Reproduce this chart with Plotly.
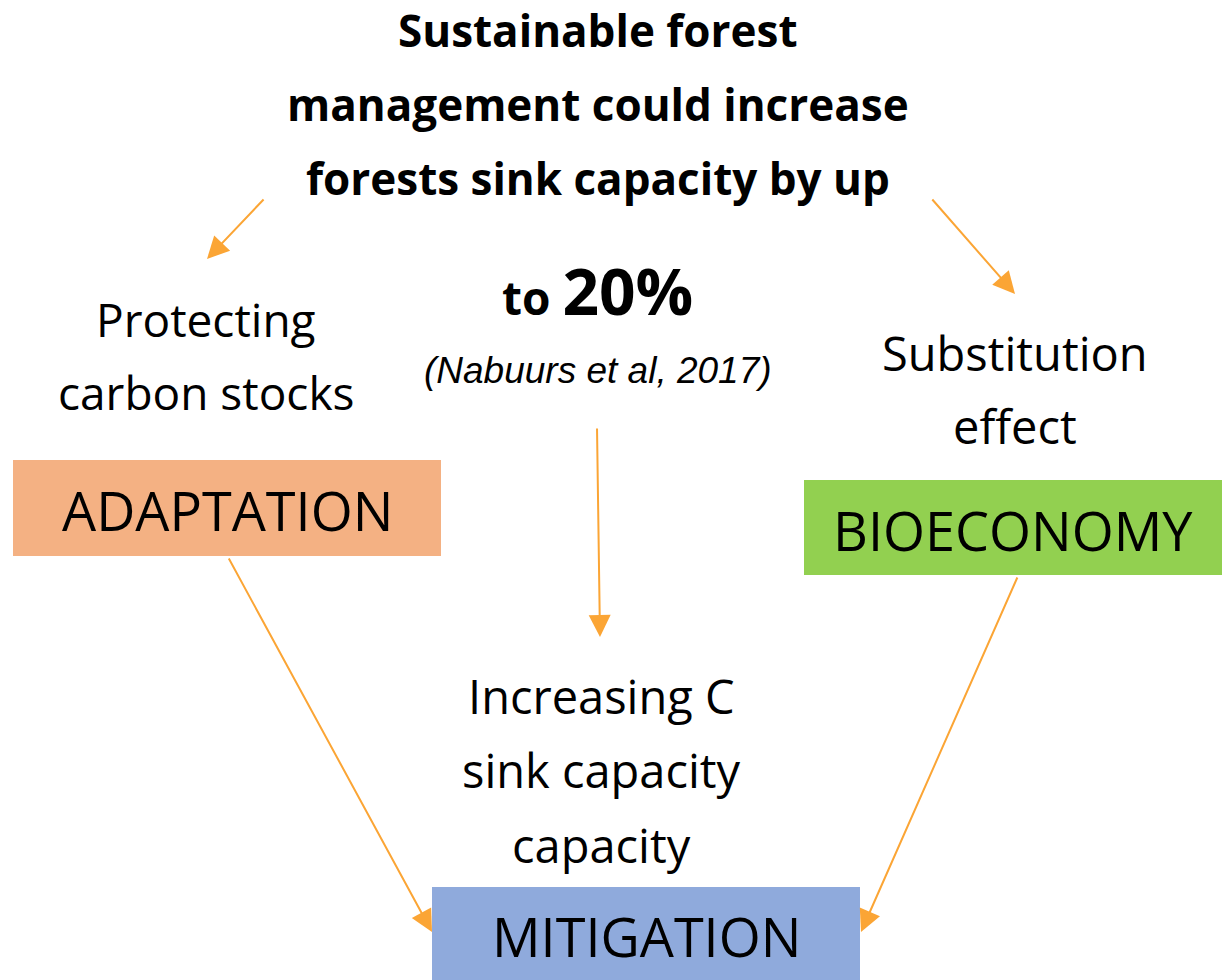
import plotly.graph_objects as go

# ---- content ----
title_lines = ["Sustainable forest", "management could increase", "forests sink capacity by up"]
title_y = [30, 104, 178]
pct_prefix = "to"
pct_value = "20%"
citation = "(Nabuurs et al, 2017)"
left_lines = ["Protecting", "carbon stocks"]
left_y = [319, 392]
right_lines = ["Substitution", "effect"]
right_y = [353, 426]
mid_lines = ["Increasing C", "sink capacity", "capacity"]
mid_y = [696, 770, 845]

box_labels = ["ADAPTATION", "BIOECONOMY", "MITIGATION"]
box_colors = ["#F4B183", "#92D050", "#8FAADC"]
box_x0 = [13, 804, 432]
box_x1 = [441, 1222, 860]
box_y0 = [460, 480, 887]
box_y1 = [556, 575, 980]

# arrows: tail (x,y) -> head (x,y)
arrow_tail_x = [265, 931, 597, 228, 1018]
arrow_tail_y = [198, 198, 427, 557, 576]
arrow_head_x = [207, 1015, 600, 432, 861]
arrow_head_y = [259, 294, 637, 932, 932]

ARROW = "#FBA535"
FONT = "Open Sans"
W, H = 1222, 980

fig = go.Figure()
shapes = []
ann = []

for lab, c, x0, x1, y0, y1 in zip(box_labels, box_colors, box_x0, box_x1, box_y0, box_y1):
    shapes.append(dict(type="rect", xref="x", yref="y", x0=x0, x1=x1, y0=y0, y1=y1,
                       fillcolor=c, line=dict(width=0), layer="below"))
    ann.append(dict(x=(x0 + x1) / 2, y=(y0 + y1) / 2 + 2, text=lab, showarrow=False,
                    font=dict(family=FONT, size=54, color="black"),
                    xref="x", yref="y", xanchor="center", yanchor="middle"))

for tx, ty, hx, hy in zip(arrow_tail_x, arrow_tail_y, arrow_head_x, arrow_head_y):
    ann.append(dict(x=hx, y=hy, ax=tx, ay=ty, xref="x", yref="y", axref="x", ayref="y",
                    text="", showarrow=True, arrowhead=2, arrowsize=2.2, arrowwidth=2,
                    arrowcolor=ARROW, standoff=0, startstandoff=0))

def add_lines(lines, ys, x, size, bold=False):
    for t, y in zip(lines, ys):
        txt = f"<b>{t}</b>" if bold else t
        ann.append(dict(x=x, y=y, text=txt, showarrow=False, xref="x", yref="y",
                        xanchor="center", yanchor="middle",
                        font=dict(family=FONT, size=size, color="black")))

add_lines(title_lines, title_y, 598, 44, bold=True)
add_lines(left_lines, left_y, 206, 46)
add_lines(right_lines, right_y, 1015, 47)
add_lines(mid_lines, mid_y, 601, 47)

ann.append(dict(x=597, y=290, text=f"<b><span style='font-size:46px'>{pct_prefix} </span>{pct_value}</b>",
                showarrow=False, xref="x", yref="y", xanchor="center", yanchor="middle",
                font=dict(family=FONT, size=64, color="black")))
ann.append(dict(x=598, y=370, text=f"<i>{citation}</i>", showarrow=False, xref="x", yref="y",
                xanchor="center", yanchor="middle",
                font=dict(family="Liberation Sans", size=37, color="black")))

fig.update_layout(
    width=W, height=H, margin=dict(l=0, r=0, t=0, b=0),
    paper_bgcolor="white", plot_bgcolor="white",
    xaxis=dict(range=[0, W], visible=False, fixedrange=True),
    yaxis=dict(range=[H, 0], visible=False, fixedrange=True),
    shapes=shapes, annotations=ann, showlegend=False,
)
fig.write_html("out.html", config={"displayModeBar": False},
               post_script="document.body.style.margin='0';document.body.style.overflow='hidden';")
